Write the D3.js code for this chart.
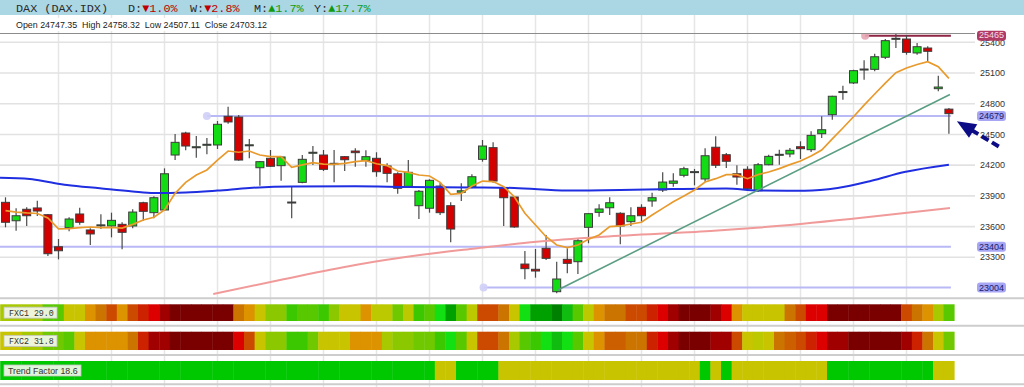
<!DOCTYPE html>
<html><head><meta charset="utf-8">
<script src="https://cdn.jsdelivr.net/npm/d3@7"></script>
<style>html,body{margin:0;padding:0;background:#fff;overflow:hidden}</style>
</head><body>
<svg id="c" width="1024" height="387" xmlns="http://www.w3.org/2000/svg"></svg>
<script>
// ---------------- DATA ----------------
const symbol = "DAX (DAX.IDX)";
const periodLabels = ["D", "W", "M", "Y"];
const periodChanges = [-1.0, -2.8, 1.7, 17.7];

const opens  = [23837,23657,23769,23782,23716,23403,23589,23723,23567,23605,23606,23622,23606,23833,23736,23762,24299,24514,24370,24395,24397,24677,24670,24386,24175,24267,24195,23831,24032,24316,24299,24209,24283,24338,24247,24267,24192,24116,23993,23804,23779,23996,23804,23935,23989,24257,24371,23980,23889,23234,23183,23388,22964,23280,23257,23593,23739,23784,23730,23648,23788,23850,23957,24023,24101,24128,24065,24375,24302,24116,24160,23950,24204,24297,24309,24380,24351,24507,24693,24910,25003,25130,25136,25254,25430,25432,25296,25344,24947,24747.35];
const highs  = [23886,23779,23788,23853,23723,23479,23691,23784,23583,23720,23736,23642,23769,23843,23896,24169,24504,24527,24485,24465,24631,24771,24690,24456,24241,24348,24289,23990,24299,24387,24348,24348,24289,24365,24345,24326,24218,24130,24250,23957,24062,24029,23837,24023,24111,24446,24423,23990,23899,23362,23381,23518,23257,23388,23485,23730,23818,23886,23739,23788,23818,23931,24130,24120,24185,24163,24364,24482,24319,24199,24189,24221,24302,24351,24368,24433,24531,24677,24879,24976,25132,25224,25289,25432,25500,25468,25393,25361,25074,24758.32];
const lows   = [23593,23560,23606,23703,23313,23280,23554,23618,23420,23576,23495,23378,23583,23657,23681,23755,24250,24345,24273,24306,24358,24605,24243,24267,23999,24185,24048,23681,24023,24202,24143,24033,24143,24185,24185,24087,24033,23921,23980,23674,23736,23713,23446,23850,23974,24234,24029,23606,23589,23085,23101,23274,22948,23144,23137,23437,23697,23713,23427,23606,23648,23794,23938,23990,24081,24003,24038,24172,24172,24009,23954,23938,24199,24204,24277,24260,24329,24465,24644,24839,24993,25035,25117,25237,25344,25279,25279,25214,24921,24507.11];
const closes = [23642,23706,23706,23752,23335,23364,23674,23642,23528,23612,23661,23544,23742,23749,23882,24116,24423,24387,24380,24399,24599,24622,24250,24394,24234,24189,24280,23835,24257,24326,24159,24213,24253,24322,24283,24136,24120,23974,24130,23945,24052,23736,23576,23950,24087,24387,24045,23882,23596,23189,23166,23290,23088,23241,23462,23726,23772,23833,23606,23706,23706,23882,24035,24045,24165,24132,24292,24199,24238,24084,23970,24204,24286,24301,24345,24361,24491,24546,24873,24914,25123,25134,25259,25416,25434,25302,25357,25312,24963,24703.12];

// short moving average (orange), one value per candle
const maShort = [23755,23742,23733,23728,23684,23577,23580,23589,23596,23589,23593,23586,23622,23664,23691,23762,23925,24032,24104,24153,24250,24338,24326,24338,24299,24283,24283,24179,24202,24224,24211,24208,24218,24234,24244,24214,24195,24143,24130,24104,24094,24032,23915,23925,23996,24045,24040,23990,23892,23730,23615,23501,23420,23394,23420,23476,23518,23599,23606,23625,23642,23713,23778,23843,23899,23957,24035,24068,24107,24107,24068,24107,24133,24166,24205,24241,24290,24348,24456,24563,24673,24787,24895,25002,25103,25149,25183,25211,25162,25048];
// medium moving average (blue)
const maMidIdx = [-0.6,2.3,4.2,5.8,8.9,12,14,17,20,23,27,33,38,44,48,53,58,63,68,71,75.4,78.5,81.7,84.8,89];
const maMidVal = [24077,24065,24032,24006,23974,23943,23928,23933,23952,23977,23992,23993,23987,23982,23977,23952,23957,23967,23972,23952,23950,23977,24048,24133,24205];
// long moving average (salmon)
const maLongIdx = [19.6,25.9,33,39.1,44.3,50.1,56.4,66.5,70.2,79.7,89.1];
const maLongVal = [22941,23078,23225,23322,23386,23452,23501,23557,23583,23674,23782];
// trend line (two anchor points)
const trendIdx = [52.1, 89.1];
const trendVal = [22981, 24890];
// horizontal levels
const levelValues = [25465, 24679, 23404, 23004];
const levelStartIdx = [81.1, 19.0, -0.6, 45.1];
const levelKinds = ["high", "lvl", "lvl", "lvl"];
// y axis ticks
const yTicks = [23300,23600,23900,24200,24500,24800,25100,25400];

// indicator strips (heat level per candle, 0 = strongest bear ... 18 = strongest bull)
const fxc1Levels = [10,10,10,10,13,13,8,8,7,6,4,7,4,3,2,1,0,0,0,0,0,0,6,7,8,11,11,14,13,13,14,11,8,8,7,9,9,12,9,14,13,15,17,13,9,4,4,6,8,15,17,17,18,16,13,9,7,6,6,4,4,3,2,1,0,0,0,1,2,7,8,8,8,8,6,4,2,2,0,0,0,0,0,0,0,4,6,7,10,13];
const fxc2Levels = [8,8,10,10,12,12,13,8,7,7,7,7,6,3,1,1,0,0,0,0,0,0,2,4,8,11,11,14,14,12,8,8,8,7,7,7,10,11,11,12,12,14,15,13,8,4,4,6,10,13,14,15,16,15,13,8,7,5,5,6,6,3,2,1,0,0,0,1,1,4,8,9,8,6,5,4,3,2,1,1,0,0,0,0,0,1,3,6,8,12];
const trendFlags = [1,1,1,1,1,1,1,1,1,1,1,1,1,1,1,1,1,1,1,1,1,1,1,1,1,1,1,1,1,1,1,1,1,1,1,1,1,1,1,1,1,0,0,1,1,1,1,0,0,0,0,0,0,0,0,0,0,0,0,0,0,0,0,0,0,0,1,0,1,0,0,0,0,0,0,0,0,0,1,1,1,1,1,1,1,1,1,1,0,0];
const stripNames = ["FXC1", "FXC2", "Trend Factor"];
const stripValues = [29.0, 31.8, 18.6];

// ---------------- DRAW ----------------
const svg = d3.select("#c");
const n = opens.length;
const x = d3.scaleLinear().domain([0, n - 1]).range([5.5, 948.9]);
const y = d3.scaleLinear().domain([23300, 25400]).range([257.3, 42.3]);
const step = x(1) - x(0);

const heatPalette = ["#7a0000","#a00000","#dc0000","#cc2200","#cc4a00","#cc6000","#cc7400","#dd9200","#c8c400","#bcc800","#a8c800","#8cc800","#70c800","#58c800","#3cc800","#12e012","#10bc10","#00a000","#008000"];
const heat = d3.scaleOrdinal().domain(d3.range(heatPalette.length)).range(heatPalette);
const trendColor = d3.scaleOrdinal().domain([1, 0]).range(["#00c800", "#c8c400"]);

// header band
svg.append("rect").attr("x", 0).attr("y", 0).attr("width", 1024).attr("height", 15).attr("fill", "#abd6e4");

// vertical grid
const vGrid = d3.range(5, n, 5);
svg.append("g").selectAll("line").data(vGrid).join("line")
  .attr("x1", d => x(d)).attr("x2", d => x(d)).attr("y1", 15).attr("y2", 387)
  .attr("stroke", "#e6e6e6").attr("stroke-width", 1.5);

// horizontal grid
svg.append("g").selectAll("line").data(yTicks).join("line")
  .attr("x1", 0).attr("x2", 975).attr("y1", d => y(d)).attr("y2", d => y(d))
  .attr("stroke", "#e2e2e2").attr("stroke-width", 1.6);

// OHLC text with white background
svg.append("rect").attr("x", 13).attr("y", 18).attr("width", 265).attr("height", 13).attr("fill", "#fff");
const last = n - 1;
svg.append("text").attr("x", 16).attr("y", 27.5)
  .attr("font-family", "Liberation Sans, Arial, sans-serif").attr("font-size", 8.9).attr("fill", "#222")
  .text(`Open ${opens[last].toFixed(2)}  High ${highs[last].toFixed(2)}  Low ${lows[last].toFixed(2)}  Close ${closes[last].toFixed(2)}`)
  .attr("xml:space", "preserve");

// title
const title = svg.append("text").attr("y", 12).attr("font-family", "Liberation Mono, DejaVu Sans Mono, monospace")
  .attr("font-size", 11.8).attr("fill", "#2a2a2a");
title.append("tspan").attr("x", 16).text(symbol);
const titleX = [128, 190, 254, 314];
periodLabels.forEach((p, k) => {
  const v = periodChanges[k];
  title.append("tspan").attr("x", titleX[k]).text(p + ":");
  title.append("tspan").attr("fill", v < 0 ? "#c00000" : "#109a10")
    .text((v < 0 ? "▼" : "▲") + Math.abs(v).toFixed(1) + "%");
});

// top border line
svg.append("line").attr("x1", 0).attr("x2", 975).attr("y1", 33.5).attr("y2", 33.5)
  .attr("stroke", "#8c8c8c").attr("stroke-width", 1);

// clip for main chart
svg.append("defs").append("clipPath").attr("id", "clipMain")
  .append("rect").attr("x", 0).attr("y", 34).attr("width", 976).attr("height", 262);
const main = svg.append("g").attr("clip-path", "url(#clipMain)");

// level lines
levelValues.forEach((v, k) => {
  const isHigh = levelKinds[k] === "high";
  const x0 = Math.max(0, x(levelStartIdx[k]));
  main.append("line").attr("x1", x0).attr("x2", x(n - 1) + 2).attr("y1", y(v)).attr("y2", y(v))
    .attr("stroke", isHigh ? "#8e2444" : "#b9b9f6").attr("stroke-width", 2);
  if (levelStartIdx[k] >= 0) {
    main.append("circle").attr("cx", x0).attr("cy", y(v)).attr("r", 4)
      .attr("fill", isHigh ? "#e6a6b4" : "#cfcff8").attr("opacity", 0.9);
  }
});

// candles
const cg = main.append("g");
const bodyW = 8;
d3.range(n).forEach(i => {
  const o = opens[i], c = closes[i], up = c >= o;
  cg.append("line").attr("x1", x(i)).attr("x2", x(i)).attr("y1", y(highs[i])).attr("y2", y(lows[i]))
    .attr("stroke", "#4a4a4a").attr("stroke-width", 1.2);
  const top = y(Math.max(o, c)), bot = y(Math.min(o, c));
  const h = Math.max(1, bot - top);
  cg.append("rect").attr("x", x(i) - bodyW / 2).attr("y", h <= 1 ? top - 0.5 : top)
    .attr("width", bodyW).attr("height", h)
    .attr("fill", up ? "#14dc14" : "#d40000").attr("stroke", "#3c3c3c").attr("stroke-width", 1);
});

// moving averages and trend line
main.append("path").datum(d3.zip(maLongIdx, maLongVal)).attr("d", d3.line().x(d => x(d[0])).y(d => y(d[1])).curve(d3.curveMonotoneX))
  .attr("fill", "none").attr("stroke", "#f19a9a").attr("stroke-width", 2);
main.append("path").datum(d3.zip(maMidIdx, maMidVal)).attr("d", d3.line().x(d => x(d[0])).y(d => y(d[1])).curve(d3.curveMonotoneX))
  .attr("fill", "none").attr("stroke", "#1f2ee0").attr("stroke-width", 2);
main.append("path").datum(d3.zip(trendIdx, trendVal)).attr("d", d3.line().x(d => x(d[0])).y(d => y(d[1])))
  .attr("fill", "none").attr("stroke", "#5c9e84").attr("stroke-width", 1.6);
main.append("path").datum(maShort.map((v, i) => [i, v])).attr("d", d3.line().x(d => x(d[0])).y(d => y(d[1])))
  .attr("fill", "none").attr("stroke", "#e89a2c").attr("stroke-width", 1.7);

// y axis labels
svg.append("g").selectAll("text").data(yTicks).join("text")
  .attr("x", 980).attr("y", d => y(d) + (d === 25400 ? 1 : 0)).attr("dy", "0.35em")
  .attr("font-family", "Liberation Sans, Arial, sans-serif").attr("font-size", 9).attr("fill", "#333")
  .text(d => d);

// level badges
levelValues.forEach((v, k) => {
  const isHigh = levelKinds[k] === "high";
  svg.append("rect").attr("x", 977).attr("y", y(v) - 5).attr("width", 29).attr("height", 10).attr("rx", 3)
    .attr("fill", isHigh ? "#b03a64" : "#a6a6f4");
  svg.append("text").attr("x", 991.5).attr("y", y(v) - (isHigh ? 0.5 : 0)).attr("dy", "0.35em").attr("text-anchor", "middle")
    .attr("font-family", "Liberation Sans, Arial, sans-serif").attr("font-size", 9)
    .attr("fill", isHigh ? "#f6dce6" : "#20206a").text(v);
});

// dashed arrow annotation
const tip = [x(n - 1) + 8, y(24630)];
const tail = [x(n - 1) + 51, y(24375)];
const ang = Math.atan2(tail[1] - tip[1], tail[0] - tip[0]);
const headLen = 19, headHalf = 8;
const base = [tip[0] + headLen * Math.cos(ang), tip[1] + headLen * Math.sin(ang)];
const perp = [-Math.sin(ang), Math.cos(ang)];
svg.append("polygon").attr("points", [
  tip, [base[0] + perp[0] * headHalf, base[1] + perp[1] * headHalf],
  [base[0] - perp[0] * headHalf, base[1] - perp[1] * headHalf]].map(p => p.join(",")).join(" "))
  .attr("fill", "#0c0c86");
svg.append("line").attr("x1", base[0] - 2 * Math.cos(ang)).attr("y1", base[1] - 2 * Math.sin(ang))
  .attr("x2", tail[0]).attr("y2", tail[1])
  .attr("stroke", "#0c0c86").attr("stroke-width", 4).attr("stroke-dasharray", "8,4");

// separators
[298.3, 325.7, 355, 384.3].forEach(sy => {
  svg.append("line").attr("x1", 0).attr("x2", 1024).attr("y1", sy).attr("y2", sy)
    .attr("stroke", "#cdcdcd").attr("stroke-width", 2);
});

// indicator strips
const strips = [
  { levels: fxc1Levels, color: heat, y0: 304.3, h: 16.7 },
  { levels: fxc2Levels, color: heat, y0: 331.7, h: 18.3 },
  { levels: trendFlags, color: trendColor, y0: 361, h: 19 }
];
strips.forEach((s, k) => {
  svg.append("g").selectAll("rect").data(s.levels).join("rect")
    .attr("x", (d, i) => x(i) - step / 2).attr("width", step + 0.4)
    .attr("y", s.y0).attr("height", s.h)
    .attr("fill", d => s.color(d));
  const mono = k < 2;
  const label = `${stripNames[k]} ${stripValues[k].toFixed(1)}`;
  const bw = mono ? 53 : 77;
  const cy = s.y0 + s.h / 2;
  svg.append("rect").attr("x", 4).attr("y", cy - 5.5).attr("width", bw).attr("height", 11)
    .attr("fill", "#f3f7ec").attr("fill-opacity", 0.92).attr("stroke", "#c4c4c4").attr("stroke-width", 0.8);
  svg.append("text").attr("x", mono ? 9 : 8).attr("y", cy).attr("dy", "0.35em")
    .attr("font-family", mono ? "Liberation Mono, DejaVu Sans Mono, monospace" : "Liberation Sans, Arial, sans-serif")
    .attr("font-size", mono ? 8.3 : 8.8).attr("fill", "#333").text(label);
});
</script>
</body></html>
